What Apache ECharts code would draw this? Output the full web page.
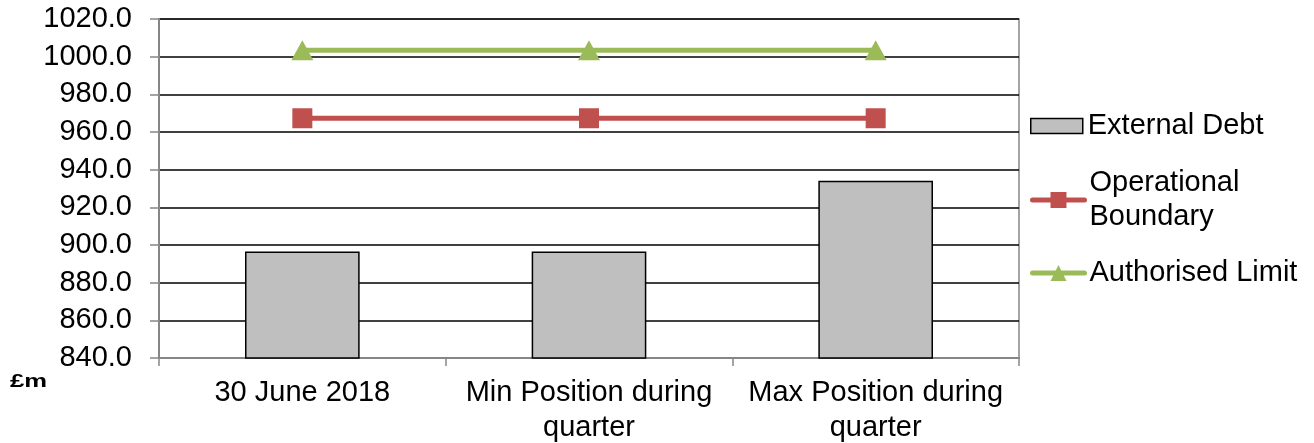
<!DOCTYPE html>
<html>
<head>
<meta charset="utf-8">
<script src="https://cdn.jsdelivr.net/npm/echarts@6/dist/echarts.min.js"></script>
<style>html,body{margin:0;padding:0;background:#fff}#c{width:1314px;height:443px}</style>
</head>
<body>
<div id="c"></div>
<script>
var categories = ['30 June 2018', 'Min Position during quarter', 'Max Position during quarter'];
var externalDebt = [896.5, 896.5, 934.1];
var operationalBoundary = [967.3, 967.3, 967.3];
var authorisedLimit = [1003.4, 1003.4, 1003.4];
var yMin = 840, yMax = 1020, yStep = 20;

var font = 'Liberation Sans, Arial, sans-serif';
var chart = echarts.init(document.getElementById('c'));
chart.setOption({
  animation: false,
  textStyle: { fontFamily: font },
  grid: { left: 159, right: 295, top: 19, bottom: 85, outerBoundsMode: 'none', containLabel: false,
    show: true, borderColor: '#868686', borderWidth: 1.5, backgroundColor: 'transparent' },
  legend: [
    { data: [{ name: 'External Debt', icon: 'rect' }], left: 1030, top: 109, orient: 'vertical', padding: 0, itemWidth: 52, itemHeight: 15, itemGap: 0,
      itemStyle: { borderColor: '#000', borderWidth: 1.5 },
      textStyle: { fontFamily: font, fontSize: 29, color: '#000', lineHeight: 34 } },
    { data: ['Operational Boundary'], left: 1030, top: 149, orient: 'vertical', padding: 0, itemWidth: 52, itemHeight: 20, itemGap: 0,
      lineStyle: { width: 5, cap: 'round' },
      formatter: function (n) { return 'Operational\nBoundary'; },
      textStyle: { fontFamily: font, fontSize: 29, color: '#000', lineHeight: 34, padding: [34, 0, 0, 0] } },
    { data: ['Authorised Limit'], left: 1030, top: 256, orient: 'vertical', padding: 0, itemWidth: 52, itemHeight: 20, itemGap: 0,
      lineStyle: { width: 5, cap: 'round' },
      textStyle: { fontFamily: font, fontSize: 29, color: '#000', lineHeight: 34 } }
  ],
  xAxis: {
    type: 'category',
    data: categories,
    boundaryGap: true,
    axisLine: { lineStyle: { color: '#868686', width: 2 } },
    axisTick: { show: true, length: 8, interval: 0, lineStyle: { color: '#868686', width: 1.5 } },
    axisLabel: { interval: 0, margin: 17, fontSize: 29, lineHeight: 35, color: '#000', fontFamily: font,
      formatter: function (v) { return v.replace(' quarter', '\nquarter'); } },
    splitLine: { show: false }
  },
  yAxis: {
    type: 'value',
    min: yMin, max: yMax, interval: yStep,
    axisLine: { show: true, lineStyle: { color: '#868686', width: 2 } },
    axisTick: { show: true, length: 9, lineStyle: { color: '#868686', width: 1.5 } },
    axisLabel: { margin: 27, fontSize: 29, color: '#000', fontFamily: font,
      formatter: function (v) { return v.toFixed(1); } },
    splitLine: { show: true, lineStyle: { color: '#000', width: 1.5 } }
  },
  graphic: [
    { type: 'text', left: 10, top: 372, scaleX: 1.35, style: { text: '£m', font: 'bold 19px ' + font, fill: '#000' } }
  ],
  series: [
    { name: 'External Debt', type: 'bar', data: externalDebt, barWidth: '40%',
      itemStyle: { color: '#BFBFBF', borderColor: '#000', borderWidth: 1.5 } },
    { name: 'Operational Boundary', type: 'line', data: operationalBoundary, symbol: 'rect', symbolSize: 20,
      lineStyle: { color: '#C0504D', width: 5 }, itemStyle: { color: '#C0504D' } },
    { name: 'Authorised Limit', type: 'line', data: authorisedLimit, symbol: 'triangle', symbolSize: [22, 20],
      lineStyle: { color: '#9BBB59', width: 5 }, itemStyle: { color: '#9BBB59' } }
  ]
});
</script>
</body>
</html>
